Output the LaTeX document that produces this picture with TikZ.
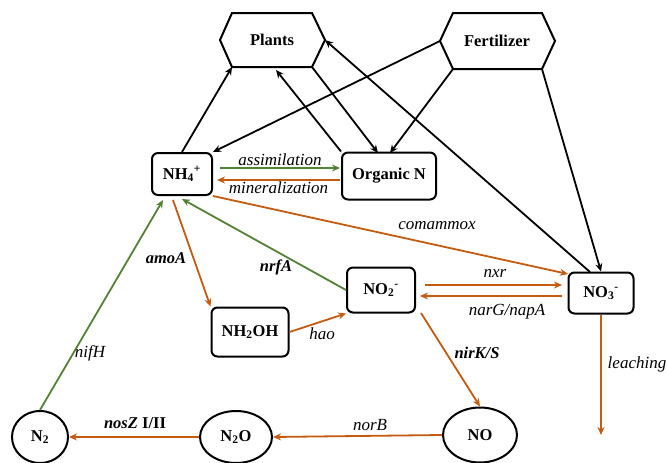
\documentclass[tikz,border=0pt]{standalone}
\usepackage{fontspec}
\setmainfont{Liberation Serif}
\usetikzlibrary{arrows.meta,shapes.geometric,calc}
\definecolor{orng}{HTML}{C55A11}
\definecolor{grn}{HTML}{548235}
\begin{document}
\begin{tikzpicture}[x=1pt,y=-1pt,
  box/.style={draw,line width=2pt,rounded corners=6pt,font=\fontsize{16.5}{18}\selectfont\bfseries,inner sep=0pt},
  ell/.style={draw,ellipse,line width=2pt,font=\fontsize{16.5}{18}\selectfont\bfseries,inner sep=0pt},
  hex/.style={line width=2pt,line join=miter},
  lbl/.style={font=\fontsize{17}{19}\selectfont\itshape,inner sep=1pt},
  blbl/.style={font=\fontsize{16.5}{18}\selectfont\bfseries\itshape,inner sep=1pt},
  blk/.style={line width=1.8pt,-{Stealth[length=8pt,width=7pt]}},
  org/.style={line width=1.8pt,draw=orng,-{Stealth[length=8pt,width=7pt]},color=orng},
  gr/.style={line width=1.8pt,draw=grn,-{Stealth[length=8pt,width=7pt]},color=grn}]
\useasboundingbox (0,0) rectangle (667,463);
% hexagons
\coordinate (plW) at (220,40);
\coordinate (plNW) at (232,13);
\coordinate (plNE) at (312,13);
\coordinate (plE) at (325,40);
\coordinate (plSE) at (312,67);
\coordinate (plSW) at (232,67);
\draw[hex] (plW)--(plNW)--(plNE)--(plE)--(plSE)--(plSW)--cycle;
\node[font=\fontsize{16.5}{18}\selectfont\bfseries] (plants) at (272,40) {Plants};
\coordinate (feW) at (440,41);
\coordinate (feNW) at (453,13);
\coordinate (feNE) at (542,13);
\coordinate (feE) at (555,41);
\coordinate (feSE) at (542,69);
\coordinate (feSW) at (453,69);
\draw[hex] (feW)--(feNW)--(feNE)--(feE)--(feSE)--(feSW)--cycle;
\node[font=\fontsize{16.5}{18}\selectfont\bfseries] (fert) at (497,41) {Fertilizer};
% boxes
\node[box,minimum width=60pt,minimum height=42pt] (nh4) at (182,174) {NH\textsubscript{4}\textsuperscript{+}};
\node[box,minimum width=94pt,minimum height=47pt] (orgn) at (389,176) {Organic N};
\node[box,minimum width=77pt,minimum height=49pt] (nh2oh) at (250,332) {NH\textsubscript{2}OH};
\node[box,minimum width=68pt,minimum height=45pt] (no2) at (381,290) {NO\textsubscript{2}\textsuperscript{-}};
\node[box,minimum width=65pt,minimum height=41pt] (no3) at (601,293) {NO\textsubscript{3}\textsuperscript{-}};
\node[ell,minimum width=74pt,minimum height=55pt] (no) at (480,435) {NO};
\node[ell,minimum width=72pt,minimum height=52pt] (n2o) at (236,437) {N\textsubscript{2}O};
\node[ell,minimum width=56pt,minimum height=52pt] (n2) at (40,437) {N\textsubscript{2}};
\coordinate (leach) at (601,435);
% black connectors
\draw[blk] (nh4.north) -- (plSW);
\draw[blk] (orgn.north west) -- (276,70);
\draw[blk] (plSE) -- (378,153);
\draw[blk] (feW) -- (nh4.north east);
\draw[blk] (feSW) -- (390,153);
\draw[blk] (feSE) -- (no3.north);
\draw[blk] (590,272) -- (plE);
% colored connectors
\draw[gr] (220,168) -- node[lbl,above,text=black] {assimilation} (340,168);
\draw[org] (340,180) -- node[lbl,below,text=black] {mineralization} (217,180);
\draw[org] (nh4.south east) -- (568,274);
\node[lbl] (comm) at (437,226) {comammox};
\draw[org] (173,200) -- (nh2oh.north west);
\node[blbl] (amoa) at (166,258) {amoA};
\draw[gr] (no2.west) -- (182,199);
\node[blbl] (nrfa) at (276,267) {nrfA};
\draw[org] (nh2oh.east) -- (no2.south west);
\node[lbl] (hao) at (322,334) {hao};
\draw[org] (425,285) -- (562,285);
\node[lbl] (nxr) at (495,273) {nxr};
\draw[org] (562,296) -- (420,296);
\node[lbl] (narg) at (507,312) {narG/napA};
\draw[org] (421,313) -- (no.north);
\node[blbl] (nirk) at (477,353) {nirK/S};
\draw[org] (no.west) -- (n2o.east);
\node[lbl] (norb) at (370,425) {norB};
\draw[org] (n2o.west) -- (n2.east);
\node[font=\fontsize{16.5}{18}\selectfont\bfseries,inner sep=1pt] (nosz) at (135,423) {\textit{nosZ} I/II};
\draw[gr] (n2.north) -- (163,200);
\node[lbl] (nifh) at (90,353) {nifH};
\draw[org] (no3.south) -- (leach);
\node[lbl] (leaching) at (637,364) {leaching};
\end{tikzpicture}
\end{document}
